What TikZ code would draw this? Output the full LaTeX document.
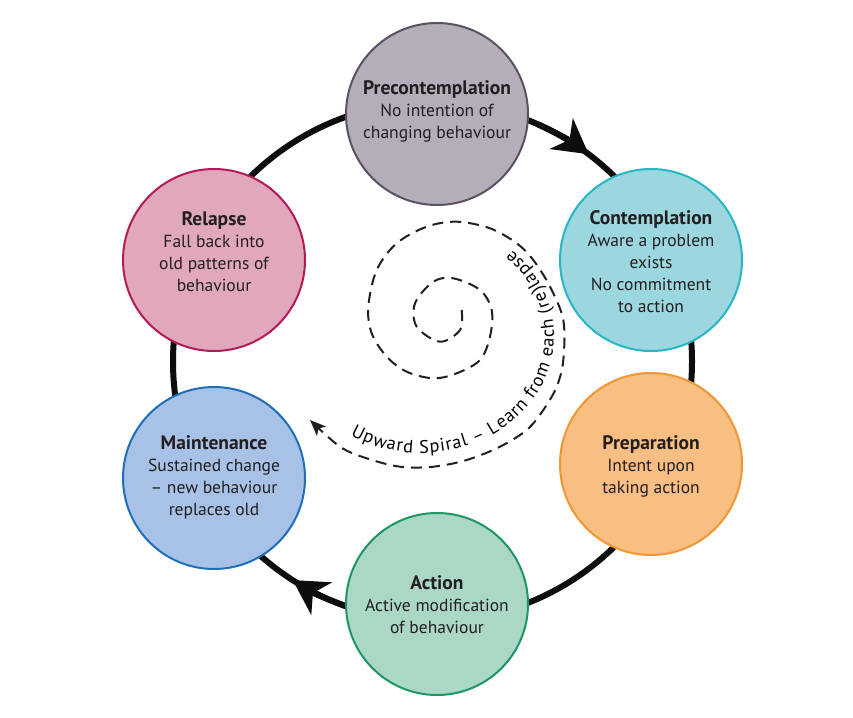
\documentclass[tikz,border=0pt]{standalone}
\usepackage{fontspec}
\setmainfont{PT Sans}
\usetikzlibrary{arrows.meta,decorations.text}
\definecolor{txt}{HTML}{231F20}
\definecolor{ringc}{HTML}{0D0D0D}
\definecolor{prefill}{HTML}{B4AEBB}
\definecolor{preline}{HTML}{5A5264}
\definecolor{confill}{HTML}{9CD6DF}
\definecolor{conline}{HTML}{26B6C4}
\definecolor{prepfill}{HTML}{F8BE82}
\definecolor{prepline}{HTML}{F09632}
\definecolor{actfill}{HTML}{AAD8C4}
\definecolor{actline}{HTML}{1E9664}
\definecolor{mainfill}{HTML}{A7C2E6}
\definecolor{mainline}{HTML}{1E6EB9}
\definecolor{relfill}{HTML}{E1A8BC}
\definecolor{relline}{HTML}{B4195A}
\newcommand\spiralfont{\fontsize{18.3}{22}\selectfont}
\newcommand\stagetitle[1]{{\fontsize{19.5}{22}\selectfont\bfseries #1}}
\begin{document}
\begin{tikzpicture}[x=1pt,y=-1pt,
  stage/.style={circle,minimum size=182pt,inner sep=0pt,line width=2pt},
  stagetext/.style={align=center,font=\fontsize{17.5}{22}\selectfont,text=txt,inner sep=0pt},
  ring/.style={line width=6pt,draw=ringc},
  bigtip/.style={-{Stealth[length=34pt,width=38pt,inset=10pt]}},
  spiral/.style={draw=txt,line width=2pt,dash pattern=on 11pt off 7pt}
]
\useasboundingbox (0,0) rectangle (853,717);
\coordinate (rc) at (432.5,361.5);
\draw[ring] (rc) circle[radius=259.5];
\draw[ring,bigtip] (rc) ++(-66:259.5) arc[start angle=-66,end angle=-53,radius=259.5];
\draw[ring,bigtip] (rc) ++(108:259.5) arc[start angle=108,end angle=122.6,radius=259.5];

\node[stage,fill=prefill,draw=preline] (P) at (437,114) {};
\node[stage,fill=confill,draw=conline] (C) at (651,260) {};
\node[stage,fill=prepfill,draw=prepline] (Pr) at (651,464) {};
\node[stage,fill=actfill,draw=actline] (A) at (437,604) {};
\node[stage,fill=mainfill,draw=mainline] (M) at (214,478) {};
\node[stage,fill=relfill,draw=relline] (R) at (214,260) {};

\node[stagetext] (Pt) at (437,111) {\stagetitle{Precontemplation}\\No intention of\\changing behaviour};
\node[stagetext] (Ct) at (651,262) {\stagetitle{Contemplation}\\Aware a problem\\exists\\No commitment\\to action};
\node[stagetext] (Prt) at (651,466) {\stagetitle{Preparation}\\Intent upon\\taking action};
\node[stagetext] (At) at (437,605) {\stagetitle{Action}\\Active modification\\of behaviour};
\node[stagetext] (Mt) at (214,477) {\stagetitle{Maintenance}\\Sustained change\\– new behaviour\\replaces old};
\node[stagetext] (Rt) at (214,252) {\stagetitle{Relapse}\\Fall back into\\old patterns of\\behaviour};

\draw[spiral,-{Stealth[length=16pt,width=13pt,inset=4pt]}] plot[smooth,tension=0.55] coordinates {
 (461.7,310) (460,330) (440,341.7) (416.7,326.7) (415,303.3) (433.3,281.7) (453.3,278.3)
 (480,290) (491.7,310) (490,336.7) (480,360) (456.7,373.3) (433.3,378.3) (406.7,371.7)
 (386.7,356.7) (371.7,333.3) (368.3,306.7) (376.7,270) (396.7,243.3) (426.7,226.7)
 (456.7,221.7) (490,228.3) (516.7,243.3) (533.3,260) (550,286.7) (563.3,320) (563.3,360)
 (556.7,386.7) (543.3,410) (526.7,430) (500,446.7) (466.7,460) (433.3,466.7) (400,466.7)
 (366.7,458.3) (340,446.7) (310,420)};

\coordinate (sc) at (421,336);
\path[decorate,decoration={text along path,
  text={|\spiralfont|Upward Spiral – Learn from each (re)lapse},
  text align=fit to path}]
  (sc) ++(122:133 and 117) arc[start angle=122,end angle=-47,x radius=133,y radius=117];
\end{tikzpicture}
\end{document}
